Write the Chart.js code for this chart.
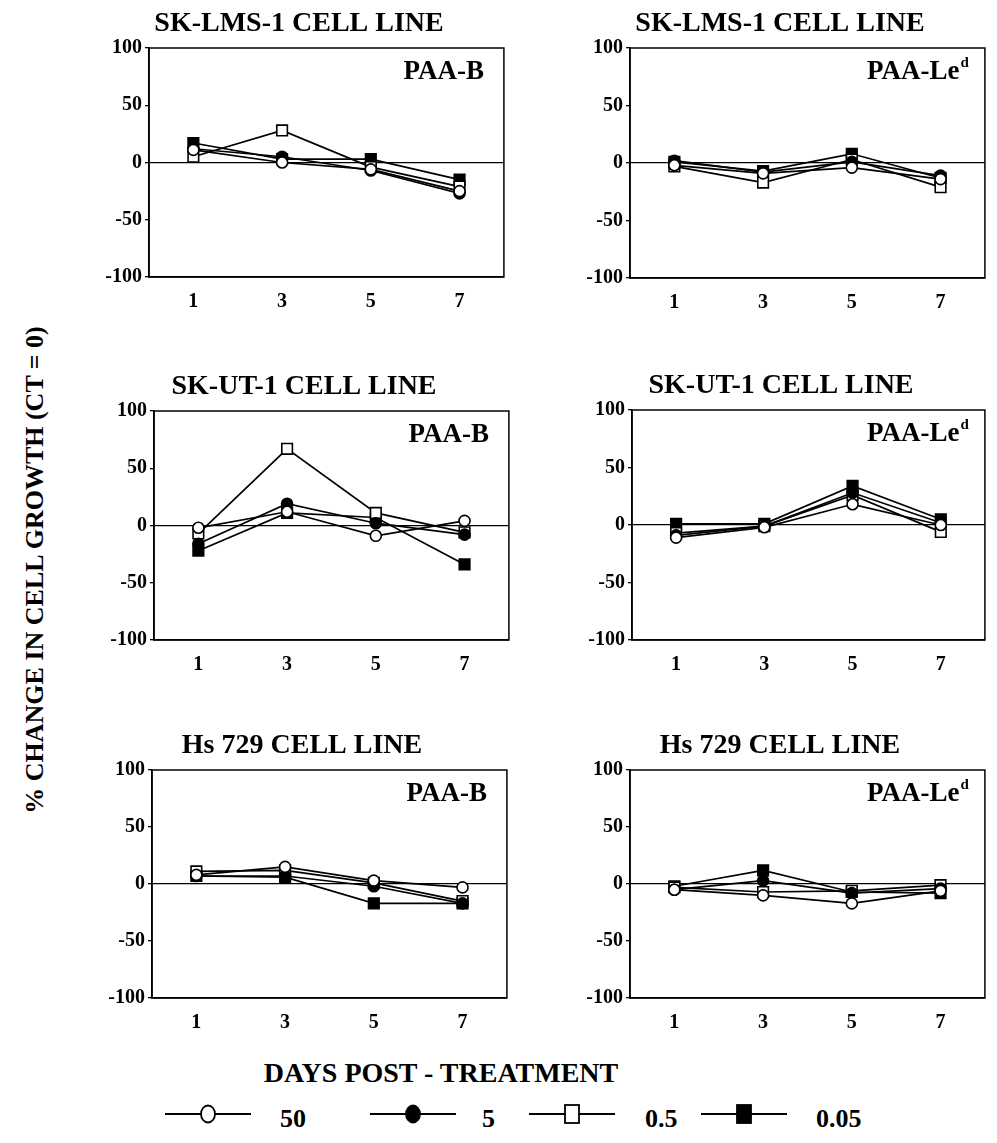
<!DOCTYPE html>
<html>
<head>
<meta charset="utf-8">
<script src="https://cdn.jsdelivr.net/npm/chart.js@4.4.1/dist/chart.umd.min.js"></script>
<style>
    body { margin: 0; background: #fff; width: 997px; height: 1143px; position: relative; overflow: hidden;
           font-family: "Liberation Serif", "Times New Roman", serif; font-weight: bold; color: #000; }
    canvas { position: absolute; }
    #ytitle { position: absolute; left: 35px; top: 570px; font-size: 26px; white-space: nowrap;
              transform: translate(-50%, -50%) rotate(-90deg); }
    #xtitle { position: absolute; left: 441px; top: 1073px; font-size: 28px; white-space: nowrap;
              transform: translate(-50%, -50%); }
    .leg-line { position: absolute; }
    .leg-text { position: absolute; font-size: 26px; line-height: 26px; }
</style>
</head>
<body>
<div id="ytitle">% CHANGE IN CELL GROWTH (CT = 0)</div>
<div id="xtitle">DAYS POST - TREATMENT</div>
<div id="legend"></div>
<script>
// days on the x axis and the four doses
const days = [1, 3, 5, 7];
const doses = ['50', '5', '0.5', '0.05'];
const yTicks = [-100, -50, 0, 50, 100];

const cellLines = ['SK-LMS-1 CELL LINE', 'SK-UT-1 CELL LINE', 'Hs 729 CELL LINE'];

// % change, one row per dose (50, 5, 0.5, 0.05), one value per day
const lmsB = [[11, 0, -6, -25], [12, 5, -7, -27], [5, 28, -4, -21], [17, 3, 3, -15]];
const lmsLe = [[-2, -9, -4, -14], [2, -8, 1, -11], [-3, -17, 3, -21], [1, -7, 8, -13]];
const utB = [[-2, 12, -9, 4], [-16, 19, 2, -8], [-7, 67, 11, -6], [-22, 11, 7, -34]];
const utLe = [[-11, -2, 18, 0], [-9, -1, 28, 2], [-7, -1, 26, -6], [1, 1, 34, 5]];
const hsB = [[8, 15, 3, -3], [7, 7, -2, -17], [11, 12, 1, -15], [7, 6, -17, -17]];
const hsLe = [[-5, -10, -17, -6], [-5, 3, -8, -4], [-3, -7, -6, -1], [-2, 12, -7, -8]];

// marker look per dose
const markerStyle = ['circle', 'circle', 'rect', 'rect'];
const markerFill = ['#fff', '#000', '#fff', '#000'];
const markerRadius = [5.5, 5.5, 7.5, 7.5];

const FONT = 'Liberation Serif';

// panel label (PAA-B / PAA-Le^d) and closed frame round the plot
const panelDecor = {
    id: 'panelDecor',
    afterDraw(chart, args, opts) {
        const { ctx, chartArea: a } = chart;
        ctx.save();
        ctx.strokeStyle = '#000';
        ctx.lineWidth = 1.5;
        ctx.strokeRect(a.left, a.top, a.right - a.left, a.bottom - a.top);
        ctx.fillStyle = '#000';
        ctx.textBaseline = 'middle';
        let x = a.right - opts.right;
        const y = a.top + 24;
        if (opts.sup) {
            ctx.font = 'bold 15px ' + FONT;
            ctx.textAlign = 'right';
            ctx.fillText(opts.sup, x, y - 9);
            x -= ctx.measureText(opts.sup).width + 1;
        }
        ctx.font = 'bold 27px ' + FONT;
        ctx.textAlign = 'right';
        ctx.fillText(opts.text, x, y);
        ctx.restore();
    }
};

function makePanel(box, title, label, sup, rows) {
    const padL = 60, padT = 48, padB = 36, padR = 4;
    const canvas = document.createElement('canvas');
    canvas.width = box.w + padL + padR;
    canvas.height = box.h + padT + padB;
    canvas.style.left = (box.x - padL) + 'px';
    canvas.style.top = (box.y - padT) + 'px';
    document.body.appendChild(canvas);

    const datasets = rows.map((vals, i) => ({
        label: doses[i],
        data: vals.map((v, j) => ({ x: days[j], y: v })),
        borderColor: '#000',
        borderWidth: 1.7,
        pointStyle: markerStyle[i],
        pointRadius: markerRadius[i],
        pointBackgroundColor: markerFill[i],
        pointBorderColor: '#000',
        pointBorderWidth: 1.6,
        tension: 0
    }));

    new Chart(canvas, {
        type: 'line',
        data: { datasets },
        plugins: [panelDecor],
        options: {
            responsive: false,
            animation: false,
            layout: { padding: { right: padR } },
            plugins: {
                legend: { display: false },
                tooltip: { enabled: false },
                title: {
                    display: true, text: title, color: '#000',
                    font: { family: FONT, size: 28, weight: 'bold' },
                    padding: { top: 7.2, bottom: 7.2 }
                },
                panelDecor: { text: label, sup: sup, right: sup ? 16 : 20 }
            },
            scales: {
                x: {
                    type: 'linear', min: 0, max: 8,
                    afterBuildTicks: s => { s.ticks = days.map(v => ({ value: v })); },
                    afterFit: s => { s.height = padB; },
                    grid: { display: false },
                    border: { display: true, color: '#000', width: 1.6 },
                    ticks: { color: '#000', padding: 5, font: { family: FONT, size: 20, weight: 'bold' } }
                },
                y: {
                    min: -100, max: 100,
                    afterBuildTicks: s => { s.ticks = yTicks.map(v => ({ value: v })); },
                    afterFit: s => { s.width = padL; },
                    grid: {
                        color: c => (c.tick && c.tick.value === 0) ? '#000' : 'rgba(0,0,0,0)',
                        tickColor: '#000', tickLength: 4, lineWidth: 1.3
                    },
                    border: { display: true, color: '#000', width: 1.6 },
                    ticks: { color: '#000', padding: 3, font: { family: FONT, size: 20, weight: 'bold' } }
                }
            }
        }
    });
}

// plot boxes (x, y, w, h) for the six panels
const boxes = [
    { x: 149, y: 48, w: 360, h: 229 }, { x: 630, y: 48, w: 360, h: 230 },
    { x: 154, y: 411, w: 360, h: 229 }, { x: 632, y: 410, w: 358, h: 230 },
    { x: 152, y: 770, w: 360, h: 228 }, { x: 630, y: 770, w: 360, h: 228 }
];

makePanel(boxes[0], cellLines[0], 'PAA-B', '', lmsB);
makePanel(boxes[1], cellLines[0], 'PAA-Le', 'd', lmsLe);
makePanel(boxes[2], cellLines[1], 'PAA-B', '', utB);
makePanel(boxes[3], cellLines[1], 'PAA-Le', 'd', utLe);
makePanel(boxes[4], cellLines[2], 'PAA-B', '', hsB);
makePanel(boxes[5], cellLines[2], 'PAA-Le', 'd', hsLe);

// legend along the bottom: line with marker, then dose
const legLineX = [165, 370, 529, 701];
const legTextX = [280, 482, 645, 816];
const legY = 1114;
const legend = document.getElementById('legend');
doses.forEach((d, i) => {
    const w = 86, h = 26, cx = w / 2, cy = h / 2;
    const mark = markerStyle[i] === 'circle'
        ? `<ellipse cx="${cx}" cy="${cy}" rx="7" ry="8.5" fill="${markerFill[i]}" stroke="#000" stroke-width="1.8"/>`
        : `<rect x="${cx - 7}" y="${cy - 9}" width="14" height="18" fill="${markerFill[i]}" stroke="#000" stroke-width="1.8"/>`;
    legend.innerHTML += `
        <svg class="leg-line" style="left:${legLineX[i]}px;top:${legY - cy}px" width="${w}" height="${h}">
            <line x1="0" y1="${cy}" x2="${w}" y2="${cy}" stroke="#000" stroke-width="1.8"/>${mark}
        </svg>
        <div class="leg-text" style="left:${legTextX[i]}px;top:${legY - 8}px">${d}</div>`;
});
</script>
</body>
</html>
